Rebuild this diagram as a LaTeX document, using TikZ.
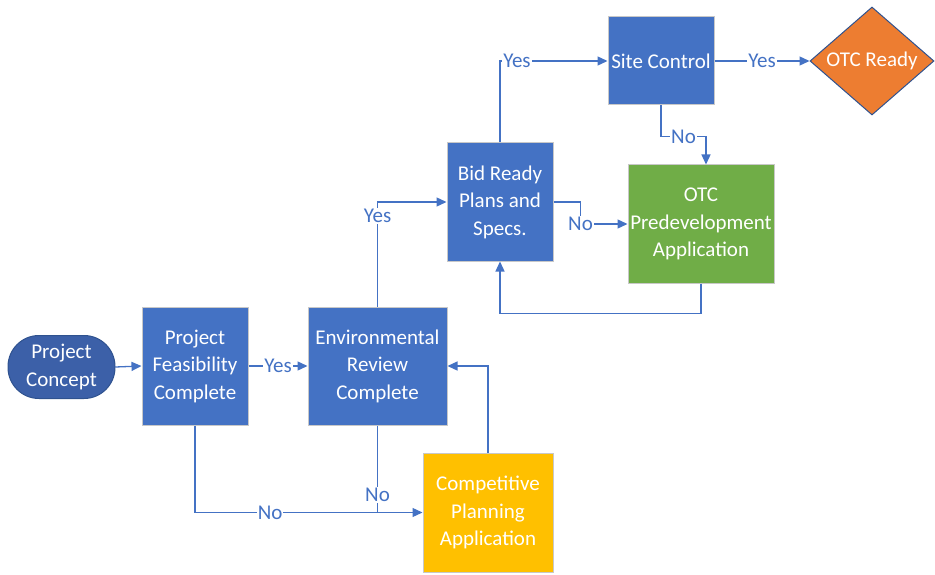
\documentclass[tikz,border=0pt]{standalone}
\usepackage{fontspec}
\setmainfont{Carlito}
\usetikzlibrary{arrows.meta,shapes.geometric,calc}
\definecolor{boxblue}{HTML}{4472C4}
\definecolor{darkblue}{HTML}{3C60A8}
\definecolor{darkedge}{HTML}{2F528F}
\definecolor{boxgreen}{HTML}{70AD47}
\definecolor{boxyellow}{HTML}{FFC000}
\definecolor{boxorange}{HTML}{ED7D31}
\definecolor{edgegray}{HTML}{C8C8C8}
\tikzset{
  x=1pt,y=-1pt,
  every node/.style={font=\fontsize{21}{27.5}\selectfont},
  box/.style={rectangle,draw=edgegray,line width=1pt,fill=boxblue,text=white,align=center,inner sep=0pt},
  conn/.style={draw=boxblue,line width=1.3pt},
  arr/.style={conn,-{Triangle[length=10pt,width=9pt]}},
  lbl/.style={fill=white,text=boxblue,inner sep=1pt}
}
\begin{document}
\begin{tikzpicture}
\useasboundingbox (0,0) rectangle (935,575);
% nodes
\node[rectangle,rounded corners=31pt,draw=darkedge,line width=1pt,fill=darkblue,text=white,align=center,minimum width=107pt,minimum height=63pt,inner sep=0pt] (concept) at (61.5,367) {Project\\Concept};
\node[box,minimum width=106pt,minimum height=118pt] (feas) at (195,366) {Project\\Feasibility\\Complete};
\node[box,minimum width=139pt,minimum height=118pt] (env) at (377.5,366) {Environmental\\Review\\Complete};
\node[box,minimum width=106pt,minimum height=118pt] (bid) at (500,202) {Bid Ready\\Plans and\\Specs.};
\node[box,minimum width=106pt,minimum height=88pt] (site) at (661,61) {Site Control};
\node[diamond,draw=darkedge,line width=1pt,fill=boxorange,minimum width=124pt,minimum height=108pt,inner sep=0pt] (otc) at (872,61) {};
\node[text=white] (otctext) at (otc.center) {OTC Ready};
\node[box,fill=boxgreen,minimum width=146pt,minimum height=118pt] (green) at (701,224) {OTC\\Predevelopment\\Application};
\node[box,fill=boxyellow,minimum width=130pt,minimum height=119pt] (comp) at (488,512.5) {Competitive\\Planning\\Application};
% connectors
\draw[arr] (concept.east) -- (feas.west);
\draw[arr] (feas.east) -- node[lbl]{Yes} (env.west);
\draw[arr] (feas.south) |- node[lbl,pos=0.665]{No} (comp.west);
\draw[conn] (env.south) -- node[lbl,pos=0.8]{No} (env.south |- comp.west);
\draw[arr] (comp.north) |- (env.east);
\draw[arr] (env.north) |- node[lbl,pos=0.433]{Yes} (bid.west);
\draw[arr] (bid.north) |- node[lbl,pos=0.579]{Yes} (site.west);
\draw[arr] (site.east) -- node[lbl]{Yes} (otc.west);
\draw[arr] (site.south) -- ++(0,31) -| node[lbl,pos=0.25]{No} ([xshift=5pt]green.north);
\draw[arr] (bid.east) -- ++(27,0) |- node[lbl,pos=0.5]{No} (green.west);
\draw[arr] (green.south) -- ++(0,30) -| (bid.south);
\end{tikzpicture}
\end{document}
